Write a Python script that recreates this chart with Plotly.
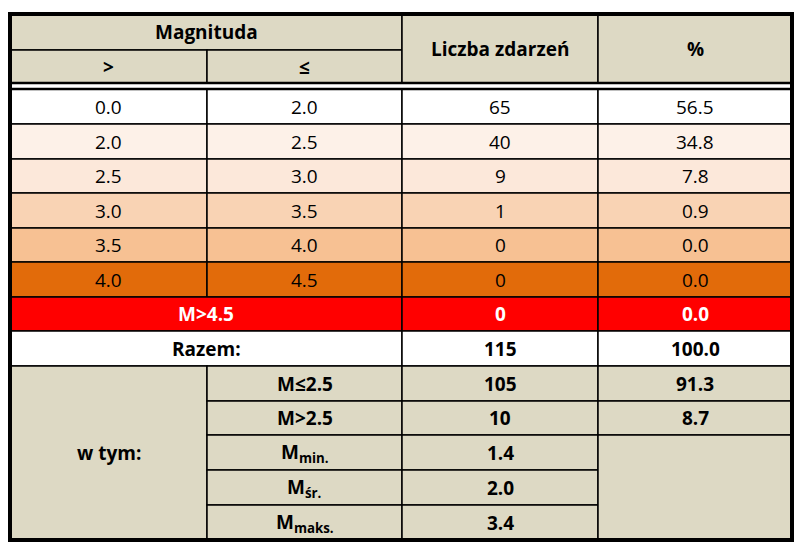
import plotly.graph_objects as go

# dane tabeli
mag_from = ["0.0", "2.0", "2.5", "3.0", "3.5", "4.0"]
mag_to = ["2.0", "2.5", "3.0", "3.5", "4.0", "4.5"]
counts = [65, 40, 9, 1, 0, 0]
percents = [56.5, 34.8, 7.8, 0.9, 0.0, 0.0]
over_label = "M>4.5"
over_count = 0
over_pct = 0.0
total_count = 115
total_pct = 100.0
sub_labels = ["M≤2.5", "M>2.5", "M<sub>min.</sub>", "M<sub>śr.</sub>", "M<sub>maks.</sub>"]
sub_values = ["105", "10", "1.4", "2.0", "3.4"]
sub_pcts = ["91.3", "8.7"]

row_fills = ["#ffffff", "#fdf1e8", "#fce8da", "#f9d3b4", "#f7c193", "#e26b0a"]
header_fill = "#ddd9c4"

cols = [10, 207, 402, 598, 792]
data_top = 89
row_h = [35, 35, 34, 35, 34, 35, 34, 35, 35, 34, 35, 35, 35]
edges = [data_top]
for h in row_h:
    edges.append(edges[-1] + h)

fig = go.Figure()
shapes, annots = [], []
FONT = "Open Sans"

def cell(x0, x1, y0, y1, fill, text="", bold=False, color="#000000", lw=1.5):
    shapes.append(dict(type="rect", x0=x0, x1=x1, y0=y0, y1=y1, fillcolor=fill,
                       line=dict(color="black", width=lw), layer="below"))
    if text != "":
        t = "<b>%s</b>" % text if bold else text
        annots.append(dict(x=(x0 + x1) / 2, y=(y0 + y1) / 2, text=t, showarrow=False,
                           font=dict(family=FONT, size=19, color=color)))

# nagłówek
cell(cols[0], cols[2], 14, 50, header_fill, "Magnituda", True)
cell(cols[0], cols[1], 50, 83, header_fill, ">", True)
cell(cols[1], cols[2], 50, 83, header_fill, "≤", True)
cell(cols[2], cols[3], 14, 83, header_fill, "Liczba zdarzeń", True)
cell(cols[3], cols[4], 14, 83, header_fill, "%", True)

for i in range(len(mag_from)):
    y0, y1 = edges[i], edges[i + 1]
    f = row_fills[i]
    cell(cols[0], cols[1], y0, y1, f, mag_from[i])
    cell(cols[1], cols[2], y0, y1, f, mag_to[i])
    cell(cols[2], cols[3], y0, y1, f, str(counts[i]))
    cell(cols[3], cols[4], y0, y1, f, "%.1f" % percents[i])

k = len(mag_from)
y0, y1 = edges[k], edges[k + 1]
cell(cols[0], cols[2], y0, y1, "#ff0000", over_label, True, "white")
cell(cols[2], cols[3], y0, y1, "#ff0000", str(over_count), True, "white")
cell(cols[3], cols[4], y0, y1, "#ff0000", "%.1f" % over_pct, True, "white")

y0, y1 = edges[k + 1], edges[k + 2]
cell(cols[0], cols[2], y0, y1, "#ffffff", "Razem:", True)
cell(cols[2], cols[3], y0, y1, "#ffffff", str(total_count), True)
cell(cols[3], cols[4], y0, y1, "#ffffff", "%.1f" % total_pct, True)

top = edges[k + 2]
cell(cols[0], cols[1], top, edges[-1], header_fill, "w tym:", True)
for j in range(len(sub_labels)):
    y0, y1 = edges[k + 2 + j], edges[k + 3 + j]
    cell(cols[1], cols[2], y0, y1, header_fill, sub_labels[j], True)
    cell(cols[2], cols[3], y0, y1, header_fill, sub_values[j], True)
    if j < len(sub_pcts):
        cell(cols[3], cols[4], y0, y1, header_fill, sub_pcts[j], True)
cell(cols[3], cols[4], edges[k + 2 + len(sub_pcts)], edges[-1], header_fill)

# grube linie: ramka i podwójna linia pod nagłówkiem
shapes.append(dict(type="rect", x0=cols[0], x1=cols[4], y0=84, y1=88,
                   fillcolor="white", line=dict(width=0)))
for yy in (83, 89):
    shapes.append(dict(type="line", x0=cols[0], x1=cols[4], y0=yy, y1=yy,
                       line=dict(color="black", width=2.5)))
shapes.append(dict(type="rect", x0=cols[0], x1=cols[4], y0=14, y1=edges[-1],
                   line=dict(color="black", width=4)))

# strona ma 8px marginesu, więc wykres 786x538 i zakres osi przesunięty o 8
fig.update_layout(shapes=shapes, annotations=annots, width=786, height=538,
                  margin=dict(l=0, r=0, t=0, b=0), plot_bgcolor="white",
                  paper_bgcolor="white", showlegend=False)
fig.update_xaxes(range=[8, 794], visible=False, fixedrange=True)
fig.update_yaxes(range=[546, 8], visible=False, fixedrange=True)
fig.write_html("out.html")
